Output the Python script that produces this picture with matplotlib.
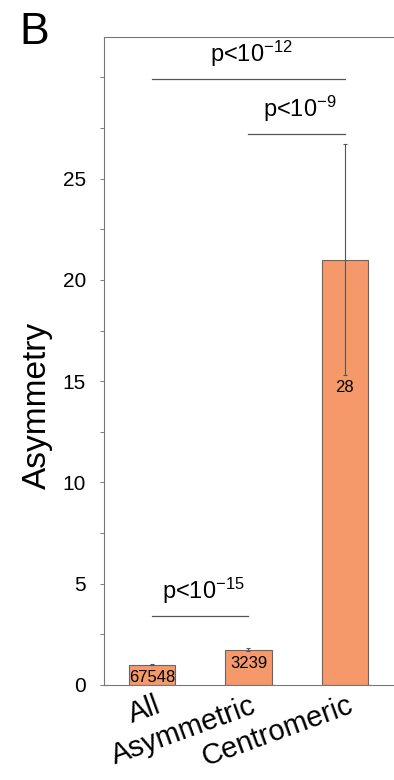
import numpy as np
import matplotlib
matplotlib.use("Agg")
import matplotlib.pyplot as plt
from matplotlib.transforms import ScaledTranslation

plt.rcParams['font.family'] = ['Liberation Sans', 'DejaVu Sans']
plt.rcParams['mathtext.fontset'] = 'custom'
plt.rcParams['mathtext.rm'] = 'Liberation Sans'
plt.rcParams['mathtext.it'] = 'Liberation Sans'

groups = ['All', 'Asymmetric', 'Centromeric']
asym = [1.0, 1.75, 21.0]
asym_err = [0.03, 0.08, 5.7]
counts = ['67548', '3239', '28']

# significance brackets: (left group, right group, height, exponent)
brackets = [(0, 2, 29.9, '-12'), (1, 2, 27.2, '-9'), (0, 1, 3.4, '-15')]

bar_col = '#F5996A'
line_col = '#555555'

fig = plt.figure(figsize=(3.94, 7.80), dpi=100)
ax = fig.add_axes([0.264, 0.1218, 0.738, 0.8308])

x = np.arange(len(groups))
ax.bar(x, asym, width=0.48, color=bar_col, edgecolor='#666666', linewidth=0.8)
ax.errorbar(x, asym, yerr=asym_err, fmt='none', ecolor=line_col,
            elinewidth=0.8, capsize=1.5, capthick=0.8)

for xi, v, e, c in zip(x, asym, asym_err, counts):
    ax.text(xi, v - e - 0.25, c, ha='center', va='top', fontsize=12)

for a, b, h, ex in brackets:
    ax.plot([a, b], [h, h], color=line_col, lw=0.9)
    ax.text((a + b) / 2 + 0.03, h + 0.5, r'p<10$^{\mathregular{%s}}$' % ex,
            ha='center', va='bottom', fontsize=17)

ax.set_xlim(-0.5, 2.52)
ax.set_ylim(0, 32)
ticks = np.arange(0, 30.1, 2.5)
ax.set_yticks(ticks)
ax.set_yticklabels([str(int(t)) if t % 5 == 0 and t <= 25 else ''
                    for t in ticks], fontsize=15)
ax.tick_params(axis='y', length=3, width=0.6, color='#666666', pad=10,
               right=True)
ax.set_xticks(x)
ax.set_xticklabels(groups, fontsize=21, rotation=20, ha='right',
                   va='center', rotation_mode='anchor')
ax.tick_params(axis='x', length=0, pad=14)
shift = ScaledTranslation(0.07, 0, fig.dpi_scale_trans)
for lab in ax.get_xticklabels():
    lab.set_transform(lab.get_transform() + shift)
for s in ax.spines.values():
    s.set_color('#777777')
    s.set_linewidth(0.8)

ax.set_ylabel('Asymmetry', fontsize=24)
ax.yaxis.set_label_coords(-0.175, 0.432)
fig.text(0.05, 0.985, 'B', fontsize=32, va='top', ha='left')

fig.savefig('out.png', dpi=100)
